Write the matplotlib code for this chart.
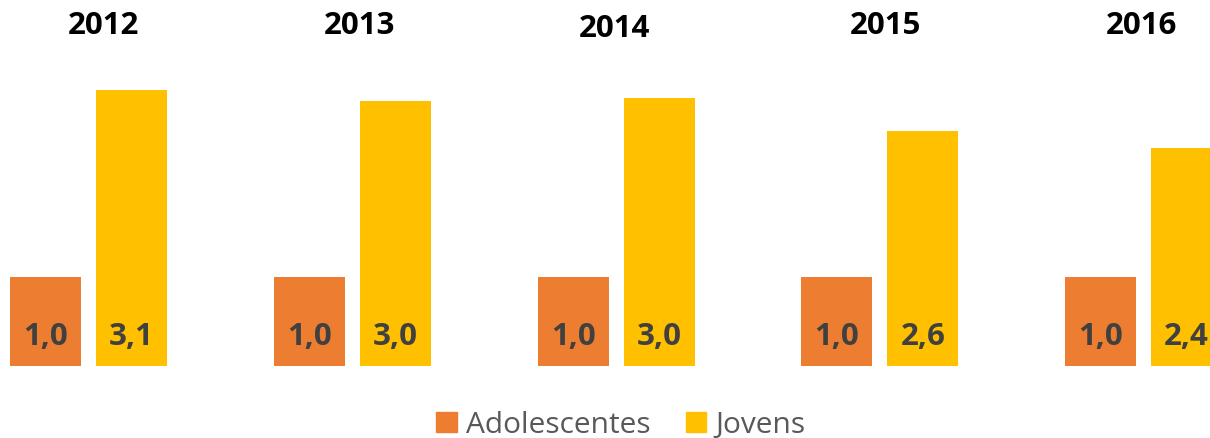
import numpy as np
import matplotlib
matplotlib.use("Agg")
import matplotlib.pyplot as plt
from matplotlib.patches import Patch

# Razao de ... (Adolescentes = 1,0 como referencia)
years = ['2012', '2013', '2014', '2015', '2016']
adolescentes = [1.0, 1.0, 1.0, 1.0, 1.0]
jovens = [3.1, 2.97, 3.01, 2.64, 2.44]

orange = '#ED7D31'
yellow = '#FFC000'

fig = plt.figure(figsize=(12.1, 4.39), dpi=100)
ax = fig.add_axes([0, 72 / 439, 1, 367 / 439])

x = np.arange(len(years))
w = 0.27
off = 0.163

b1 = ax.bar(x - off, adolescentes, w, color=orange)
b2 = ax.bar(x + off, jovens, w, color=yellow)

# value labels near the bottom of each bar
for bars, vals in [(b1, adolescentes), (b2, jovens)]:
    for rect, v in zip(bars, vals):
        ax.text(rect.get_x() + rect.get_width() / 2, 0.34, f"{v:.1f}".replace('.', ','),
                ha='center', va='center', fontsize=22.5, fontweight='bold',
                color='#404040', family='Open Sans')

# year headers (placed slightly differently, as in the original)
year_dx = [0.058, 0.026, -0.005, 0.021, -0.007]
year_y = [3.83, 3.83, 3.79, 3.83, 3.83]
for i, yr in enumerate(years):
    ax.text(x[i] + year_dx[i], year_y[i], yr, ha='center', va='center',
            fontsize=22.5, fontweight='bold', color='black', family='Open Sans')

ax.set_xlim(-0.336, 4.2516)
ax.set_ylim(0, 368 / 89.4)
ax.axis('off')

handles = [Patch(color=orange, label='Adolescentes'), Patch(color=yellow, label='Jovens')]
leg = fig.legend(handles=handles, loc='center', bbox_to_anchor=(621 / 1210, 1 - 426 / 439),
                 ncol=2, frameon=False, handlelength=0.68, handleheight=0.68,
                 handletextpad=0.3, columnspacing=1.2,
                 prop={'family': 'Open Sans', 'size': 21.5})
for t in leg.get_texts():
    t.set_color('#595959')

fig.savefig('out.png', dpi=100)
